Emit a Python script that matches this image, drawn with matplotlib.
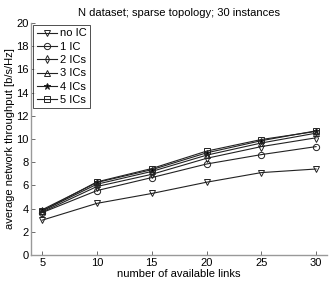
import matplotlib
matplotlib.use("Agg")
import matplotlib.pyplot as plt

plt.rcParams['font.family'] = ['Liberation Sans', 'DejaVu Sans']

# data
links = [5, 10, 15, 20, 25, 30]
no_ic = [3.0, 4.45, 5.3, 6.27, 7.1, 7.41]
ic_1 = [3.65, 5.55, 6.67, 7.84, 8.65, 9.34]
ic_2 = [3.7, 5.9, 6.95, 8.33, 9.34, 10.1]
ic_3 = [3.8, 6.1, 7.2, 8.6, 9.65, 10.5]
ic_4 = [3.9, 6.25, 7.35, 8.8, 9.85, 10.7]
ic_5 = [3.8, 6.3, 7.45, 8.95, 9.95, 10.65]
labels = ['no IC', '1 IC', '2 ICs', '3 ICs', '4 ICs', '5 ICs']
markers = ['v', 'o', 'd', '^', '*', 's']

fig = plt.figure(figsize=(3.32, 2.83), dpi=100)
ax = fig.add_axes([0.094, 0.099, 0.891, 0.82])

for ys, lab, m in zip([no_ic, ic_1, ic_2, ic_3, ic_4, ic_5], labels, markers):
    face = 'k' if m == '*' else 'none'
    ax.plot(links, ys, color='#222222', lw=0.8, marker=m, ms=4.5 if m != 'd' else 4,
            mfc=face, mec='#222222', mew=0.7, label=lab)

ax.set_xlim(4, 31)
ax.set_ylim(0, 20)
ax.set_xticks(links)
ax.set_yticks(range(0, 21, 2))
ax.set_title('N dataset; sparse topology; 30 instances', fontsize=8, pad=5)
ax.set_xlabel('number of available links', fontsize=8, labelpad=1)
ax.set_ylabel('average network throughput [b/s/Hz]', fontsize=8, labelpad=1)

for s in ['top', 'right']:
    ax.spines[s].set_visible(False)
for s in ['left', 'bottom']:
    ax.spines[s].set_color('#999999')
    ax.spines[s].set_linewidth(1.0)
ax.tick_params(direction='in', length=3, width=0.6, color='#555555', labelsize=8, pad=2)

leg = ax.legend(loc='upper left', fontsize=8, frameon=True, fancybox=False,
                edgecolor='k', handlelength=1.8, handletextpad=0.3,
                borderaxespad=0.2, borderpad=0.3, labelspacing=0.3)
leg.get_frame().set_linewidth(0.6)

fig.savefig('out.png', dpi=100)
